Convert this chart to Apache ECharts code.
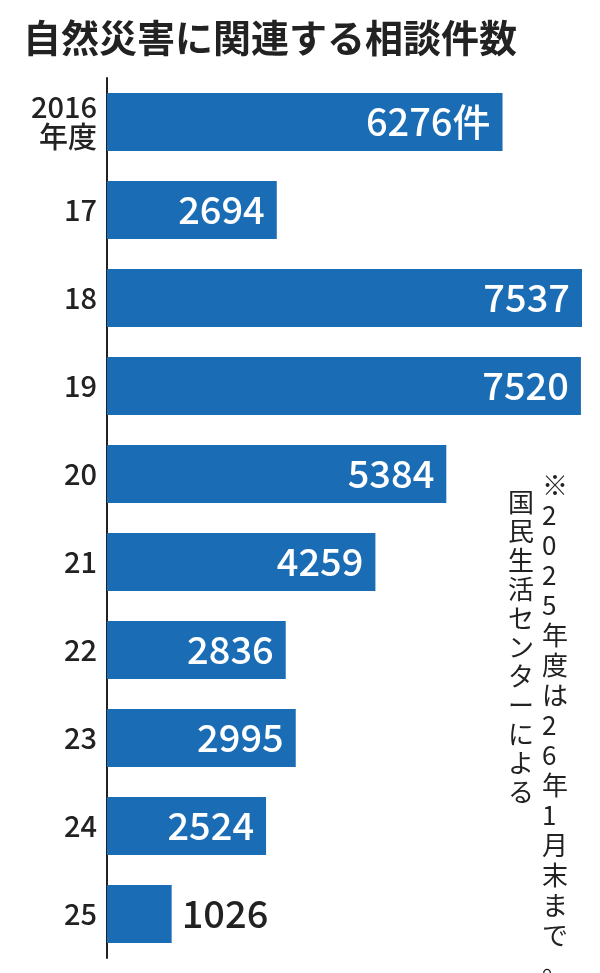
<!DOCTYPE html>
<html><head><meta charset="utf-8">
<script src="https://cdn.jsdelivr.net/npm/echarts@6/dist/echarts.min.js"></script>
<style>html,body{margin:0;padding:0;background:#fff}#c{width:600px;height:973px}</style>
</head><body><div id="c"></div>
<script>
const categories = ['2016\n年度','17','18','19','20','21','22','23','24','25'];
const values = [6276,2694,7537,7520,5384,4259,2836,2995,2524,1026];
const title = '自然災害に関連する相談件数';
const note1 = '※2025年度は26年1月末まで。';
const note2 = '国民生活センターによる';
const font = '"Noto Sans CJK JP","Noto Sans",sans-serif';
const blue = '#1a6db5';
const chart = echarts.init(document.getElementById('c'));
const vert = s => s.split('').join('\n');
chart.setOption({
  animation:false,
  title:{text:title,left:18,top:14,textStyle:{fontFamily:font,fontSize:38,fontWeight:'bold',color:'#222'}},
  grid:{left:107,right:18,top:78,bottom:15},
  xAxis:{type:'value',min:0,max:7537,show:false},
  yAxis:{type:'category',data:categories,inverse:true,
    axisLine:{show:true,lineStyle:{color:'#222',width:2}},axisTick:{show:false},
    axisLabel:{fontFamily:font,fontSize:29,fontWeight:500,color:'#222',margin:10,lineHeight:30,align:'right'}},
  series:[{type:'bar',barCategoryGap:'34%',itemStyle:{color:blue},
    data:values.map((v,i)=>({value:v,label: i===9?{position:'right',color:'#222',distance:10}:{}})),
    label:{show:true,position:'insideRight',distance:12,color:'#fff',fontFamily:font,fontSize:38,fontWeight:500,
      formatter:p=>p.dataIndex===0?p.value+'件':String(p.value)}}],
  graphic:[
    {type:'text',left:542,top:470,style:{text:vert(note1),fontFamily:font,fontSize:26,lineHeight:30,fill:'#222',align:'center'}},
    {type:'text',left:508,top:488,style:{text:vert(note2),fontFamily:font,fontSize:26,lineHeight:29,fill:'#222',align:'center'}}
  ]
});
</script></body></html>
